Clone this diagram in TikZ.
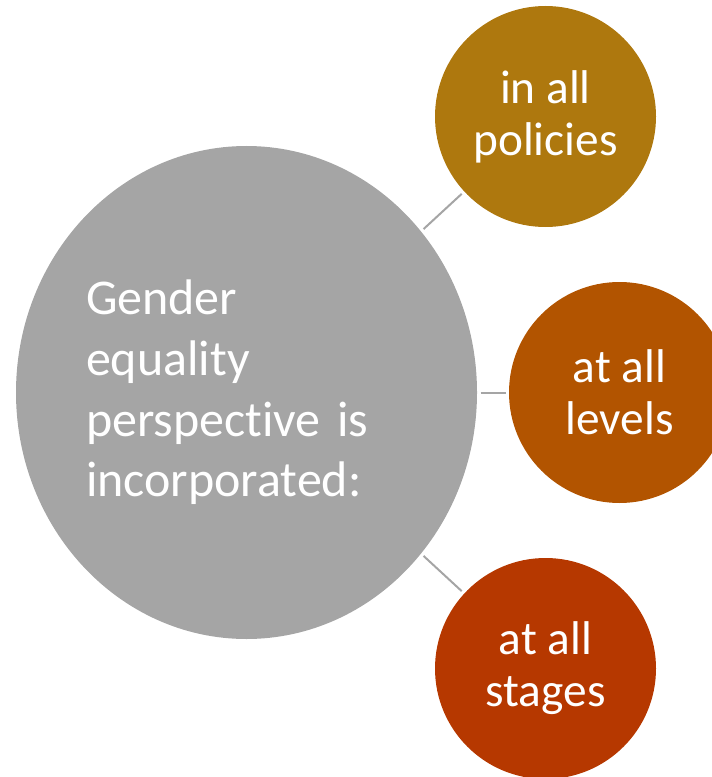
\documentclass[tikz,border=0pt]{standalone}
\usepackage{fontspec}
\setmainfont{Carlito}[Ligatures=NoCommon]
\usetikzlibrary{shapes.geometric}

\definecolor{maingray}{RGB}{165,165,165}
\definecolor{polcol}{RGB}{174,120,14}
\definecolor{levcol}{RGB}{178,84,0}
\definecolor{stgcol}{RGB}{182,56,0}

\tikzset{every picture/.style={line width=0.75pt}}
\tikzset{
  bignode/.style={ellipse, fill=maingray, inner sep=0pt, minimum width=345.75pt, minimum height=369.75pt,
    text=white, text width=240.75pt, align=left, font=\fontsize{37.5}{45.5}\selectfont},
  smallnode/.style={circle, inner sep=0pt, minimum size=165.75pt, text=white, align=center,
    font=\fontsize{35.5}{39}\selectfont},
  link/.style={draw=maingray, line width=1.5pt, shorten >=2.25pt, shorten <=2.25pt}
}

\begin{document}
\begin{tikzpicture}[x=0.75pt,y=0.75pt,yscale=-1,xscale=1]
    \clip (0,0) rectangle (712,777); %diagram is 712 wide and 777 high
    
    % Ellipse [id:main]
    \node [bignode] (main) at (246.5,392.5) {Gender\\equality\\perspective is\\incorporated:};
    
    % Circle [id:pol]
    \node [smallnode, fill=polcol] (pol) at (545.5,116.5) {in all\\policies};
    % Circle [id:lev]
    \node [smallnode, fill=levcol] (lev) at (619.5,392.5) {at all\\levels};
    % Circle [id:stg]
    \node [smallnode, fill=stgcol] (stg) at (545.5,668.5) {at all\\stages};
    
    %Straight Lines
    \draw [link] (main) -- (pol) ;
    %Straight Lines
    \draw [link] (main) -- (lev) ;
    %Straight Lines
    \draw [link] (main) -- (stg) ;
    
\end{tikzpicture}
\end{document}
